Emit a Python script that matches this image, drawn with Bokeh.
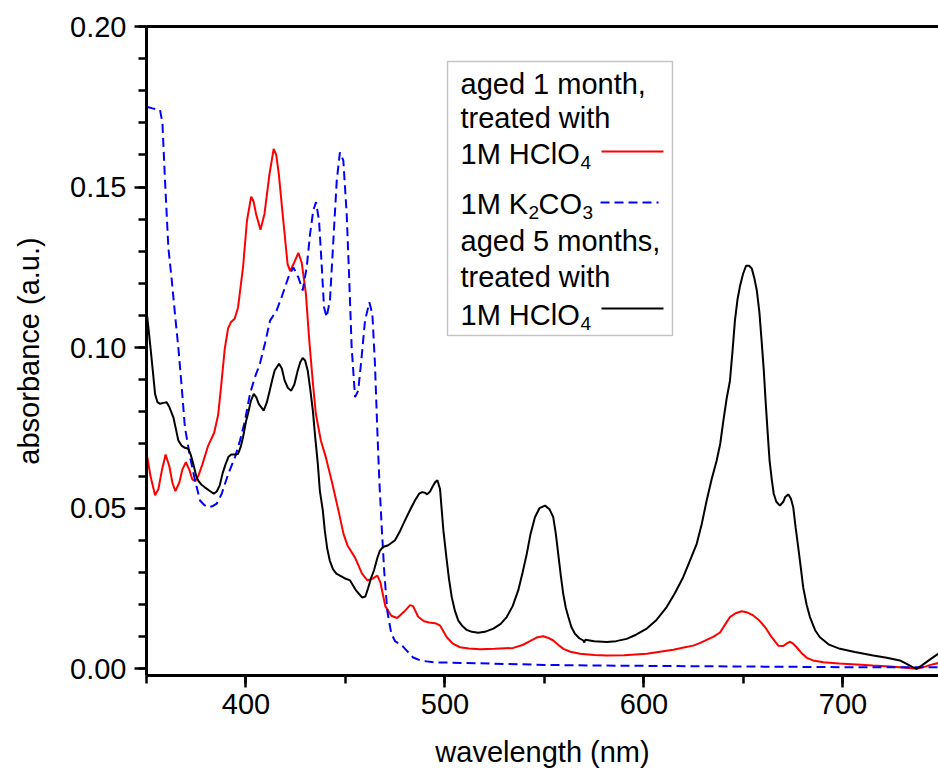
from bokeh.plotting import figure
from bokeh.models import (Range1d, LinearAxis, Label, BoxAnnotation, Arrow, FixedTicker,
                          SingleIntervalTicker, NumeralTickFormatter)
from bokeh.embed import file_html
from bokeh.resources import INLINE

# ---------------- data ----------------
red_wl = [350, 352, 354.3, 356, 357.8, 359.6, 361.5, 363, 364.5, 366.5, 368, 369.8, 371.5, 373, 374.5,
          376, 378, 381, 384, 386, 387.5, 389.3, 391, 392.5, 394.3, 396, 398.5, 400.5, 402.6, 403.8,
          405.1, 407.3, 409.3, 411.8, 413.9, 415.2, 416.5, 418.4, 420.9, 422.2, 424.3, 426.3, 428,
          430.1, 431.8, 433.5, 435.1, 437.6, 440.1, 443.4, 446.8, 449, 451, 454.8, 458.3, 461, 464,
          466, 467.5, 470, 473, 476, 479.5, 482.5, 484, 486.5, 489.5, 492, 495, 497.5, 500.9, 504,
          507.5, 512, 517.6, 525, 534.3, 539, 542.7, 546, 549.4, 552, 554.4, 557, 559.5, 563, 567.8,
          575, 581.3, 590, 601.4, 608, 614.7, 620, 624.8, 628, 631.5, 635, 638.2, 640.5, 643.2, 646,
          649.1, 652, 654.9, 658, 660.8, 664, 667.5, 670, 672, 673.4, 675, 676.7, 679, 681.8, 685,
          690.1, 698, 706.9, 715, 723.6, 730, 737, 741, 744, 748]
red_abs = [0.0674, 0.060, 0.0540, 0.056, 0.062, 0.0667, 0.063, 0.058, 0.0553, 0.058, 0.062, 0.0643,
           0.062, 0.059, 0.0584, 0.060, 0.0635, 0.0695, 0.0735, 0.079, 0.088, 0.0995, 0.1060, 0.1080,
           0.1090, 0.1125, 0.125, 0.1396, 0.1470, 0.1455, 0.1415, 0.1367, 0.1417, 0.1540, 0.1619,
           0.160, 0.154, 0.1417, 0.1260, 0.1238, 0.1266, 0.1295, 0.1265, 0.1168, 0.1022, 0.0898,
           0.0794, 0.0711, 0.0659, 0.0576, 0.0483, 0.042, 0.0384, 0.0346, 0.0296, 0.0275, 0.0282,
           0.029, 0.027, 0.0195, 0.0165, 0.0158, 0.0178, 0.0198, 0.0195, 0.0162, 0.0148, 0.0144,
           0.0142, 0.0135, 0.0098, 0.0078, 0.0067, 0.0063, 0.0061, 0.0062, 0.0065, 0.0074, 0.0086,
           0.0097, 0.0101, 0.0096, 0.0088, 0.0074, 0.0062, 0.0053, 0.0047, 0.0043, 0.0041, 0.0042,
           0.0047, 0.0053, 0.0059, 0.0066, 0.0072, 0.0080, 0.0090, 0.0100, 0.0113, 0.0135, 0.0161,
           0.0173, 0.0179, 0.0175, 0.0166, 0.0150, 0.0130, 0.0100, 0.0072, 0.0071, 0.0080, 0.0084,
           0.0078, 0.0067, 0.0050, 0.0034, 0.0026, 0.0020, 0.0016, 0.0013, 0.0010, 0.0007, 0.0004,
           0.0000, 0.0006, 0.0012, 0.0018]

blue_wl = [350, 353, 356.8, 358, 359.3, 361, 362.7, 364.3, 366, 367.7, 369.3, 371.9, 374.4, 376.9,
           379, 381, 383, 385.3, 387.8, 391.1, 394.5, 397, 399.5, 402, 404.5, 407, 409.5, 412.1,
           415.4, 417.9, 421.3, 423.8, 426.3, 428.5, 430.5, 432.2, 433.8, 435.2, 436.7, 438, 439.2,
           440.5, 442.2, 443.9, 445.6, 447.2, 448.9, 450.6, 451.9, 453.1, 454.8, 456.4, 458.1, 459.8,
           462, 463.5, 464.8, 466, 467, 468.2, 469.5, 471, 473, 475, 478, 481, 484, 488, 495, 510,
           530, 550, 575, 600, 625, 650, 675, 700, 725, 748]
blue_abs = [0.1750, 0.1745, 0.1740, 0.1700, 0.1520, 0.1310, 0.1210, 0.1105, 0.1000, 0.0877, 0.0752,
            0.0659, 0.0586, 0.0524, 0.0510, 0.0503, 0.0506, 0.0514, 0.0545, 0.0607, 0.0659, 0.0711,
            0.0773, 0.0856, 0.0908, 0.0950, 0.1012, 0.1084, 0.1116, 0.1157, 0.1219, 0.1250, 0.1219,
            0.1178, 0.1250, 0.1354, 0.1427, 0.1453, 0.1396, 0.1261, 0.1126, 0.1095, 0.1147, 0.1334,
            0.1520, 0.1608, 0.1583, 0.1417, 0.1209, 0.1001, 0.0846, 0.0866, 0.0970, 0.1084, 0.1141,
            0.1105, 0.0950, 0.0742, 0.0586, 0.0441, 0.030, 0.018, 0.011, 0.0085, 0.0075, 0.0055,
            0.0035, 0.0025, 0.0020, 0.0018, 0.0015, 0.0012, 0.0010, 0.0009, 0.0008, 0.0007, 0.0006,
            0.0005, 0.0005, 0.0005]

black_wl = [350, 351, 352, 353.3, 354.3, 355.5, 356.8, 358.5, 360.1, 361.5, 363.5, 365, 366, 367.6,
            369.3, 371, 372.3, 373.5, 375, 376, 377.5, 379.3, 381.5, 383.8, 385.3, 386.8, 388.3,
            389.8, 391.2, 392.6, 394.3, 396, 397.3, 398.5, 400, 401, 402.5, 403.9, 405.2, 406.4,
            408.9, 410.5, 411.9, 413.2, 414.4, 416.6, 418, 419.4, 421, 422.7, 424.3, 426, 427.3,
            428.5, 429.7, 431, 432.3, 433.6, 434.8, 436.1, 437.1, 438.6, 439.6, 440.8, 442.1, 443.7,
            445.4, 447.2, 449.5, 452.3, 455.3, 458.3, 460, 461.3, 463, 464.3, 466, 467.3, 469, 471.3,
            474.9, 477.5, 479.9, 482.5, 484.9, 487, 488.5, 490, 491, 492.5, 494, 495.2, 496.2, 497.5,
            499.2, 500.9, 502, 503.4, 505, 506.7, 508.5, 510.9, 513.5, 516.7, 520, 524.3, 528, 531,
            534, 536.8, 539, 541.1, 543, 545.2, 547.5, 550.3, 552.5, 554.4, 555.7, 556.9, 558.2,
            559.4, 560.7, 562, 563.5, 565.3, 567.5, 569.5, 570, 570.5, 575, 581.3, 586, 591.3, 596,
            601.4, 606, 611.4, 615.5, 619.7, 623, 626.5, 629, 631.5, 634, 636.5, 638.3, 639.9, 641.5,
            643.2, 644.5, 645.7, 647, 648.2, 649.8, 651.3, 652.8, 654.2, 655.5, 656.7, 658, 659.1,
            660.2, 661.1, 662.1, 663.1, 664.2, 665.2, 666.5, 668.3, 670, 671, 672.5, 673.8, 675,
            676.2, 677.5, 678.8, 680, 681.7, 683.4, 686, 688.4, 693, 698.5, 706, 715.2, 722, 728.6,
            732, 735, 737, 740, 744, 748]
black_abs = [0.1116, 0.106, 0.100, 0.092, 0.0856, 0.083, 0.0825, 0.0828, 0.0830, 0.0815, 0.0783,
             0.074, 0.0711, 0.0695, 0.0688, 0.0685, 0.0665, 0.0638, 0.060, 0.0586, 0.0574, 0.0565,
             0.0555, 0.0545, 0.0552, 0.0571, 0.061, 0.0638, 0.0660, 0.0667, 0.0667, 0.0669, 0.069,
             0.0721, 0.077, 0.0794, 0.0835, 0.0856, 0.0845, 0.0825, 0.0804, 0.0830, 0.0866, 0.090,
             0.0929, 0.0950, 0.0935, 0.0898, 0.0875, 0.0866, 0.0885, 0.0929, 0.0955, 0.0968, 0.0960,
             0.0929, 0.087, 0.0804, 0.072, 0.0638, 0.0555, 0.0493, 0.0430, 0.0375, 0.0337, 0.031,
             0.0296, 0.0290, 0.0282, 0.0275, 0.0244, 0.0222, 0.0225, 0.0250, 0.0285, 0.0306, 0.0345,
             0.0368, 0.0380, 0.0384, 0.0400, 0.0430, 0.0462, 0.0495, 0.0524, 0.0545, 0.0550, 0.0548,
             0.0543, 0.0552, 0.0570, 0.0582, 0.0587, 0.0560, 0.0430, 0.0337, 0.028, 0.0223, 0.0180,
             0.0150, 0.0135, 0.0121, 0.0115, 0.0112, 0.0115, 0.0125, 0.0140, 0.0161, 0.0195, 0.0244,
             0.0300, 0.0358, 0.0420, 0.0472, 0.0500, 0.0508, 0.0497, 0.0472, 0.0420, 0.0358, 0.0290,
             0.0234, 0.019, 0.0161, 0.013, 0.0109, 0.0095, 0.0088, 0.0082, 0.0090, 0.0086, 0.0083,
             0.0086, 0.0093, 0.0106, 0.0125, 0.0150, 0.0192, 0.0235, 0.0285, 0.0335, 0.0389, 0.0450,
             0.0524, 0.0590, 0.0648, 0.0700, 0.0773, 0.0840, 0.0897, 0.0990, 0.1084, 0.1150, 0.1190,
             0.1230, 0.1255, 0.1255, 0.1246, 0.1215, 0.1178, 0.1110, 0.1022, 0.0930, 0.0835, 0.0740,
             0.0649, 0.0590, 0.0545, 0.0520, 0.0508, 0.0520, 0.0535, 0.0543, 0.0530, 0.0503, 0.0440,
             0.0379, 0.0315, 0.0254, 0.0200, 0.0161, 0.0120, 0.0098, 0.0075, 0.0062, 0.0052, 0.0041,
             0.0034, 0.0026, 0.0015, 0.0005, 0.0000, 0.0012, 0.0030, 0.0047]

x_title = "wavelength (nm)"
y_title = "absorbance (a.u.)"

# ---------------- layout ----------------
W, H = 938, 773
FL, FT, FB = 146, 26, 98
X0, X1 = 350, 748
Y0, Y1 = -0.0021, 0.2
FW = W - FL
FH = H - FT - FB
FONT = "Liberation Sans"


def px2x(px):
    return X0 + (px - FL) / FW * (X1 - X0)


def py2y(py):
    return Y1 - (py - FT) / FH * (Y1 - Y0)


p = figure(width=W, height=H, x_range=Range1d(X0, X1), y_range=Range1d(Y0, Y1),
           output_backend="svg", toolbar_location=None,
           min_border_left=FL, min_border_right=0, min_border_top=FT, min_border_bottom=FB,
           x_axis_label=x_title, y_axis_label=y_title)
p.outline_line_color = None
p.grid.visible = False
p.background_fill_color = "white"
p.border_fill_color = "white"

p.xaxis.ticker = SingleIntervalTicker(interval=100, num_minor_ticks=2)
p.yaxis.ticker = SingleIntervalTicker(interval=0.05, num_minor_ticks=5)
p.yaxis.formatter = NumeralTickFormatter(format="0.00")

for ax in (p.xaxis[0], p.yaxis[0]):
    ax.axis_line_width = 3
    ax.major_tick_line_width = 2.5
    ax.minor_tick_line_width = 2.5
    ax.major_tick_in = 0
    ax.major_tick_out = 12
    ax.minor_tick_in = 0
    ax.minor_tick_out = 8
    ax.major_label_text_font = FONT
    ax.major_label_text_font_size = "29px"
    ax.major_label_text_color = "black"
    ax.axis_label_text_font = FONT
    ax.axis_label_text_font_size = "29px"
    ax.axis_label_text_font_style = "normal"
    ax.axis_label_text_color = "black"

p.xaxis.major_label_standoff = 6
p.xaxis.axis_label_standoff = 19
p.yaxis.major_label_standoff = 8
p.yaxis.axis_label_standoff = 22

top = LinearAxis(ticker=FixedTicker(ticks=[], minor_ticks=[]), axis_line_width=3,
                 major_tick_out=0, major_tick_in=0, minor_tick_out=0, minor_tick_in=0,
                 major_label_standoff=0)
p.add_layout(top, "above")

p.line(red_wl, red_abs, line_color="#ff0000", line_width=2)
p.line(blue_wl, blue_abs, line_color="#0000ff", line_width=2, line_dash="9 5")
p.line(black_wl, black_abs, line_color="black", line_width=2)

# ---------------- legend ----------------
p.add_layout(BoxAnnotation(left=px2x(447), right=px2x(672), top=py2y(61), bottom=py2y(335),
                           fill_color="white", fill_alpha=1, line_color="#3c3c3c", line_width=1.5))

LFS = "29px"
SFS = "19px"


def txt(s, px, py, size=LFS):
    p.add_layout(Label(x=px2x(px), y=py2y(py), text=s, text_font=FONT, text_font_size=size,
                       text_baseline="alphabetic", text_align="left", text_color="black"))


def sample(px0, px1, py, color, dash="solid"):
    p.add_layout(Arrow(end=None, start=None, x_start=px2x(px0), y_start=py2y(py),
                       x_end=px2x(px1), y_end=py2y(py), line_color=color, line_width=2,
                       line_dash=dash))


LX = 460
txt("aged 1 month,", LX, 83)
txt("treated with", LX, 117)
txt("1M HClO", LX, 153)
txt("4", LX + 120, 162, SFS)
sample(601, 663, 151, "#ff0000")
txt("1M K", LX, 203)
txt("2", LX + 68, 212, SFS)
txt("CO", LX + 78, 203)
txt("3", LX + 122, 212, SFS)
sample(600, 658, 202, "#0000ff", "9 5")
txt("aged 5 months,", LX, 240)
txt("treated with", LX, 276)
txt("1M HClO", LX, 314)
txt("4", LX + 120, 323, SFS)
sample(601, 663, 308, "black")

open("out.html", "w").write(file_html(p, INLINE))
